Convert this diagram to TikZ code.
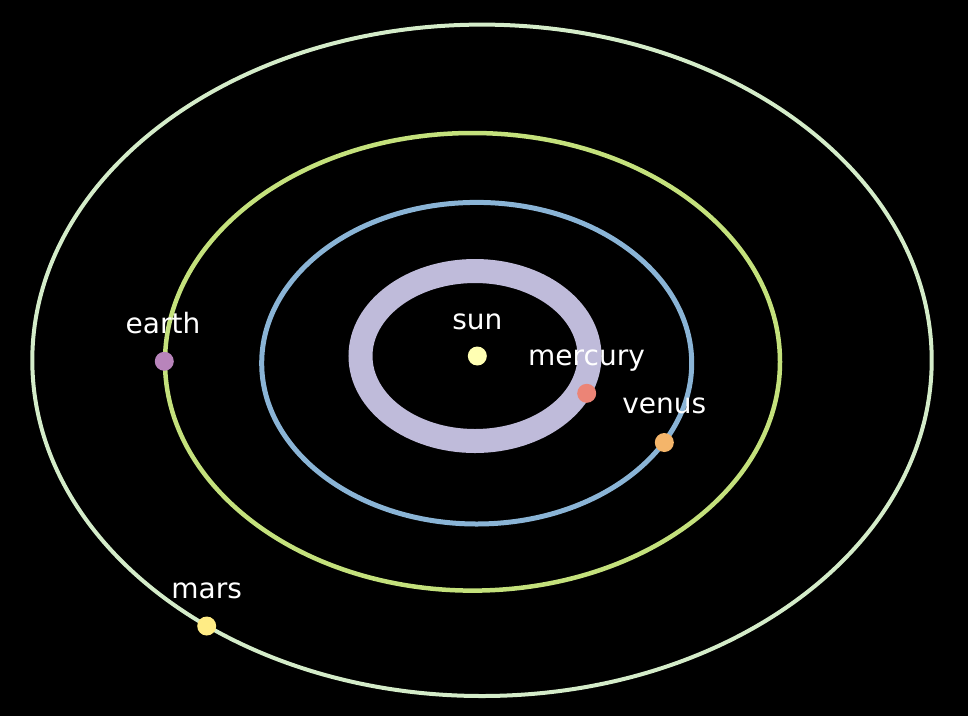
\documentclass[tikz,border=0pt]{standalone}
\usepackage{fontspec}
\setmainfont{DejaVu Sans}
\definecolor{orbmars}{HTML}{D4ECC9}
\definecolor{orbearth}{HTML}{C4E17C}
\definecolor{orbvenus}{HTML}{8AB4D6}
\definecolor{orbmerc}{HTML}{BFBBDA}
\definecolor{csun}{HTML}{FFFFB3}
\definecolor{cmerc}{HTML}{EC8476}
\definecolor{cvenus}{HTML}{F4B56A}
\definecolor{cearth}{HTML}{B884BB}
\definecolor{cmars}{HTML}{FFEC85}
\tikzset{
  body/.style={circle, inner sep=0pt, minimum size=19pt, fill=#1},
  lbl/.style={text=white, anchor=base, inner sep=0pt, font=\fontsize{28}{32}\selectfont},
}
\begin{document}
\begin{tikzpicture}[x=1pt,y=-1pt]
\fill[black] (0,0) rectangle (968,716);
\useasboundingbox (0,0) rectangle (968,716);
% orbits
\draw[orbmars, line width=4pt] (482,360.3) ellipse [x radius=449.7, y radius=335.7];
\draw[orbearth, line width=4.5pt] (472.5,361.8) ellipse [x radius=307.5, y radius=228.8];
\draw[orbvenus, line width=5pt] (476.7,363.2) ellipse [x radius=215, y radius=160.8];
\draw[orbmerc, line width=24pt] (475,356) ellipse [x radius=114.5, y radius=85];
% bodies
\node[body=csun] (sun) at (477.3,356) {};
\node[body=cmerc] (mercury) at (586.7,393.3) {};
\node[body=cvenus] (venus) at (664.3,442.5) {};
\node[body=cearth] (earth) at (164.3,361.3) {};
\node[body=cmars] (mars) at (206.7,626) {};
% labels
\node[lbl] (lsun) at (477.3,329) {sun};
\node[lbl] (lmerc) at (586.5,365) {mercury};
\node[lbl] (lvenus) at (664.3,413.5) {venus};
\node[lbl] (learth) at (163,333.3) {earth};
\node[lbl] (lmars) at (206.7,598.3) {mars};
\end{tikzpicture}
\end{document}
